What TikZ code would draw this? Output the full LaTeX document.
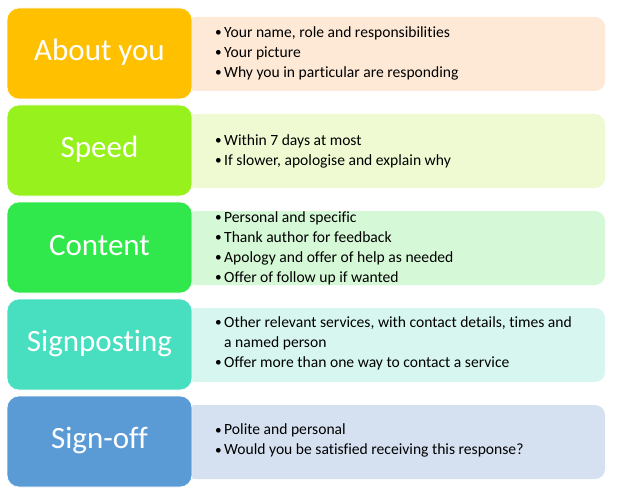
\documentclass[tikz,border=0pt]{standalone}
\usepackage{fontspec}
\setmainfont[Ligatures=NoCommon]{Carlito}
\definecolor{c1}{HTML}{FFC000}\definecolor{l1}{HTML}{FDE9D5}
\definecolor{c2}{HTML}{96F11C}\definecolor{l2}{HTML}{EFFAD3}
\definecolor{c3}{HTML}{30E84B}\definecolor{l3}{HTML}{D5F8D6}
\definecolor{c4}{HTML}{47DFC0}\definecolor{l4}{HTML}{D6F6EF}
\definecolor{c5}{HTML}{5B9BD5}\definecolor{l5}{HTML}{D5E1F1}
\newcommand{\bul}{\makebox[9pt][l]{\raisebox{0.5pt}{\scalebox{0.85}{•}}}}
\newcommand{\ind}{\hspace*{9pt}}
\tikzset{
  headbox/.style={fill=#1, draw=white, line width=0.6pt, rounded corners=12pt},
  detailbox/.style={fill=#1, rounded corners=10pt},
  headtext/.style={text=white, font=\fontsize{31}{31}\selectfont, anchor=center},
  detailtext/.style={text=black, font=\fontsize{15.6}{20}\selectfont, align=left, anchor=west, inner sep=0pt}
}
\begin{document}
\begin{tikzpicture}[x=1pt,y=-1pt]
\useasboundingbox (0,0) rectangle (620,489);
\foreach \i/\c/\l in {0/c1/l1,1/c2/l2,2/c3/l3,3/c4/l4,4/c5/l5}{
  \fill[detailbox=\l] (185,17+97*\i) rectangle (605,91+97*\i);
  \path[headbox=\c] (7,8+97*\i) rectangle (192,99+97*\i);
}
\node[headtext] (h1) at (99.5,52) {About you};
\node[headtext] (h2) at (99.5,149) {Speed};
\node[headtext] (h3) at (99.5,246) {Content};
\node[headtext] (h4) at (99.5,343) {Signposting};
\node[headtext] (h5) at (99.5,440) {Sign-off};
\node[detailtext] (d1) at (215,53) {\bul Your name, role and responsibilities\\\bul Your picture\\\bul Why you in particular are responding};
\node[detailtext] (d2) at (215,151) {\bul Within 7 days at most\\\bul If slower, apologise and explain why};
\node[detailtext] (d3) at (215,248) {\bul Personal and specific\\\bul Thank author for feedback\\\bul Apology and offer of help as needed\\\bul Offer of follow up if wanted};
\node[detailtext] (d4) at (215,343) {\bul Other relevant services, with contact details, times and\\\ind a named person\\\bul Offer more than one way to contact a service};
\node[detailtext] (d5) at (215,440.5) {\bul Polite and personal\\\bul Would you be satisfied receiving this response?};
\end{tikzpicture}
\end{document}
